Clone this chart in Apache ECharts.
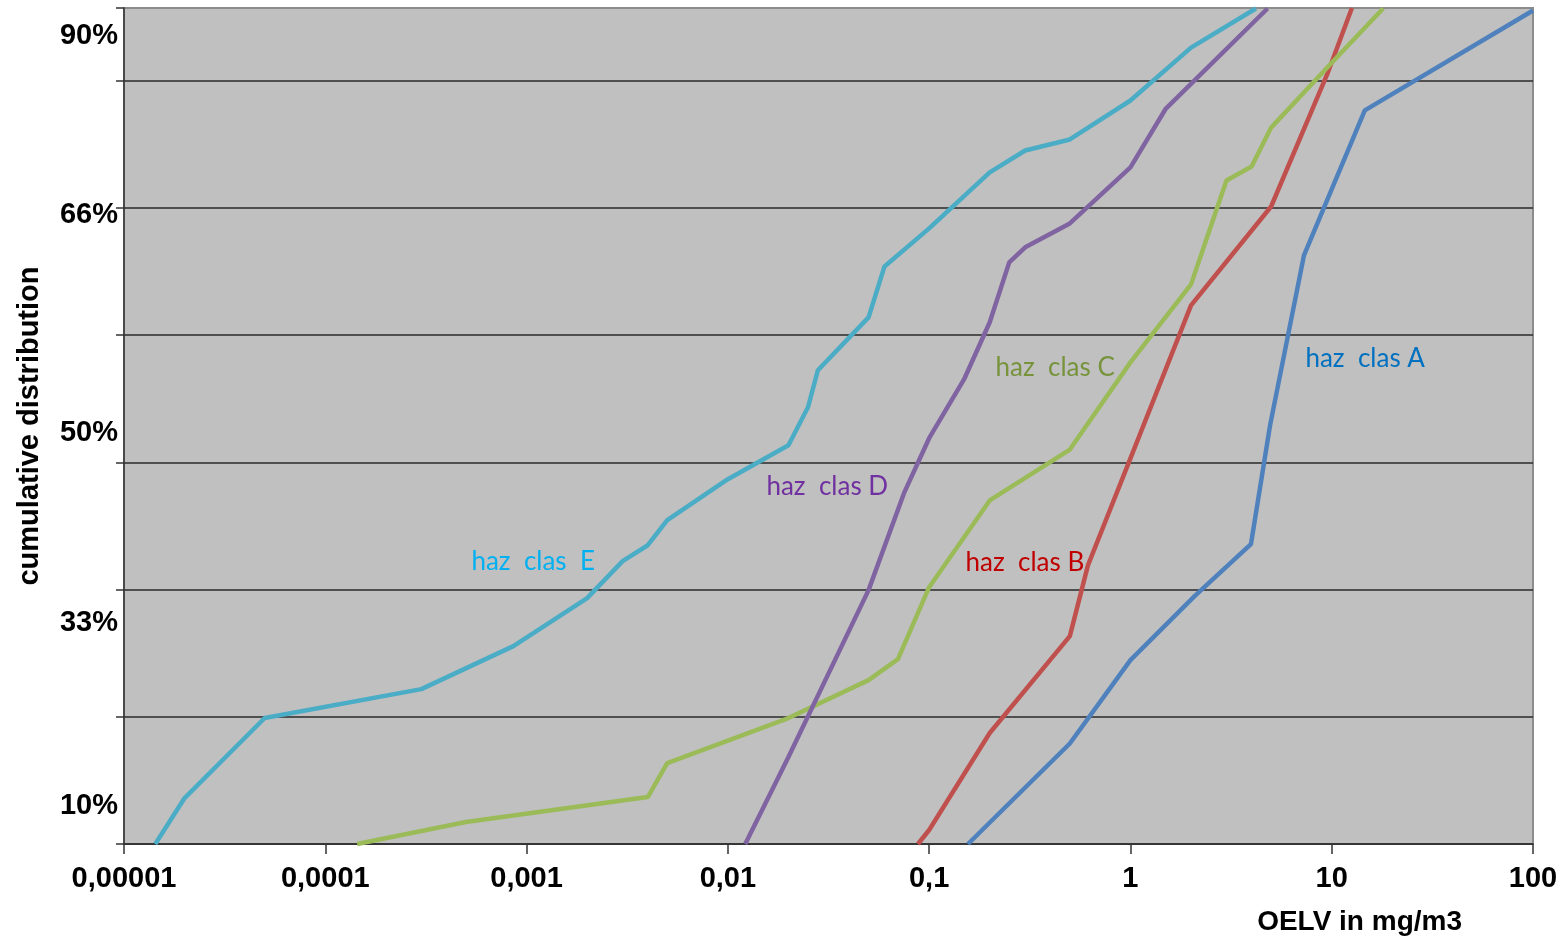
<!DOCTYPE html>
<html>
<head>
<meta charset="utf-8">
<script src="https://cdn.jsdelivr.net/npm/echarts@6/dist/echarts.min.js"></script>
<style>html,body{margin:0;padding:0;background:#fff;}#c{width:1568px;height:938px;}</style>
</head>
<body>
<div id="c"></div>
<script>
// x: OELV in mg/m3 (log scale); y: position on the cumulative distribution scale (gridline units)
var xTickLabels = ['0,00001','0,0001','0,001','0,01','0,1','1','10','100'];
var yLabelText = ['10%','33%','50%','66%','90%'];
var yLabelPos  = [0.30, 1.74, 3.23, 4.94, 6.35];

var seriesNames = ['haz  clas A','haz  clas B','haz  clas C','haz  clas D','haz  clas  E'];

var aX = [0.156, 0.50, 1.0, 2.09, 3.97, 4.94, 7.28, 14.6, 100];
var aY = [0, 0.79, 1.445, 1.95, 2.356, 3.29, 4.626, 5.765, 6.55];

var bX = [0.088, 0.1, 0.2, 0.5, 0.615, 1.0, 2.0, 5.0, 9.5, 12.6];
var bY = [0, 0.11, 0.872, 1.634, 2.19, 3.03, 4.233, 5.01, 6.05, 6.57];

var cX = [0.000144, 0.0005, 0.004, 0.005, 0.02, 0.05, 0.07, 0.1, 0.2, 0.5, 1.0, 2.0, 3.0, 4.0, 5.0, 10, 18];
var cY = [0, 0.173, 0.369, 0.636, 0.99, 1.288, 1.453, 2.018, 2.70, 3.10, 3.785, 4.398, 5.215, 5.325, 5.63, 6.14, 6.566];

var dX = [0.0122, 0.02, 0.05, 0.075, 0.1, 0.15, 0.2, 0.25, 0.3, 0.5, 1.0, 1.5, 4.8];
var dY = [0, 0.683, 1.995, 2.757, 3.189, 3.66, 4.10, 4.571, 4.689, 4.877, 5.317, 5.78, 6.566];

var eX = [0.0000143, 0.00002, 0.00005, 0.0003, 0.00086, 0.002, 0.003, 0.004, 0.005, 0.01, 0.02, 0.025, 0.028, 0.05, 0.06, 0.1, 0.2, 0.3, 0.5, 1.0, 2.0, 4.2];
var eY = [0, 0.361, 0.99, 1.217, 1.555, 1.932, 2.223, 2.348, 2.545, 2.867, 3.134, 3.432, 3.723, 4.139, 4.539, 4.838, 5.278, 5.45, 5.537, 5.843, 6.259, 6.566];

// label anchors (left-middle of each text) in data coordinates
var labelX = [7.36, 0.1507, 0.2125, 0.01546, 0.000529];
var labelY = [3.817, 2.215, 3.746, 2.81, 2.223];

var lineColors  = ['#4F81BD','#C0504D','#9BBB59','#8064A2','#4BACC6'];
var labelColors = ['#0070C0','#C00000','#77933C','#7030A0','#00B0F0'];

var xs = [aX,bX,cX,dX,eX], ys = [aY,bY,cY,dY,eY];

function pairs(x,y){ var r=[]; for(var i=0;i<x.length;i++) r.push([x[i],y[i]]); return r; }

var series = [];
for (var s=0;s<5;s++){
  series.push({
    name: seriesNames[s],
    type: 'line',
    data: pairs(xs[s], ys[s]),
    showSymbol: false,
    symbol: 'none',
    lineStyle: {color: lineColors[s], width: 4.5},
    clip: true,
    markPoint: {
      symbol: 'circle', symbolSize: 1,
      itemStyle: {color: 'rgba(0,0,0,0)'},
      label: {show: true, position: 'right', distance: 0,
        color: labelColors[s], fontFamily: 'Lato', fontSize: 26,
        formatter: seriesNames[s]},
      data: [{coord: [labelX[s], labelY[s]]}]
    }
  });
}

var chart = echarts.init(document.getElementById('c'), null, {renderer:'canvas'});
chart.setOption({
  animation: false,
  backgroundColor: '#ffffff',
  grid: {left: 124, top: 8, right: 35, bottom: 94, show: true,
         backgroundColor: '#C0C0C0', borderColor: '#8c8c8c', borderWidth: 2},
  xAxis: {
    type: 'log', logBase: 10, min: 0.00001, max: 100,
    name: 'OELV in mg/m3', nameLocation: 'end', nameGap: -71,
    nameTextStyle: {fontFamily: 'Liberation Sans', fontWeight: 'bold', fontSize: 28, color: '#000',
                    align: 'right', verticalAlign: 'top', padding: [64,0,0,0]},
    axisLine: {show: true, onZero: false, lineStyle: {color: '#333', width: 1.5}},
    axisTick: {show: true, length: 10, lineStyle: {color: '#333', width: 1.5}},
    splitLine: {show: false},
    minorTick: {show: false},
    axisLabel: {fontFamily: 'Liberation Sans', fontWeight: 'bold', fontSize: 29, color: '#000', margin: 20,
      formatter: function(v){ var i = Math.round(Math.log(v)/Math.LN10) + 5; return xTickLabels[i] || ''; }}
  },
  yAxis: {
    type: 'value', min: 0, max: 6.57, interval: 1,
    name: 'cumulative distribution', nameLocation: 'middle', nameRotate: 90, nameGap: 80,
    nameTextStyle: {fontFamily: 'Liberation Sans', fontWeight: 'bold', fontSize: 29, color: '#000'},
    axisLine: {show: true, lineStyle: {color: '#333', width: 1.5}},
    axisTick: {show: true, length: 8, lineStyle: {color: '#333', width: 1.5}},
    splitLine: {show: true, lineStyle: {color: ['#2a2a2a','#2a2a2a','#2a2a2a','#2a2a2a','#2a2a2a','#2a2a2a','#2a2a2a','#8c8c8c'], width: 1.5}},
    axisLabel: {fontFamily: 'Liberation Sans', fontWeight: 'bold', fontSize: 29, color: '#000', margin: 6,
      customValues: yLabelPos,
      formatter: function(v){
        var best = 0, d = 1e9;
        for (var i=0;i<yLabelPos.length;i++){ var dd=Math.abs(yLabelPos[i]-v); if(dd<d){d=dd;best=i;} }
        return yLabelText[best];
      }}
  },
  series: series
});
</script>
</body>
</html>
